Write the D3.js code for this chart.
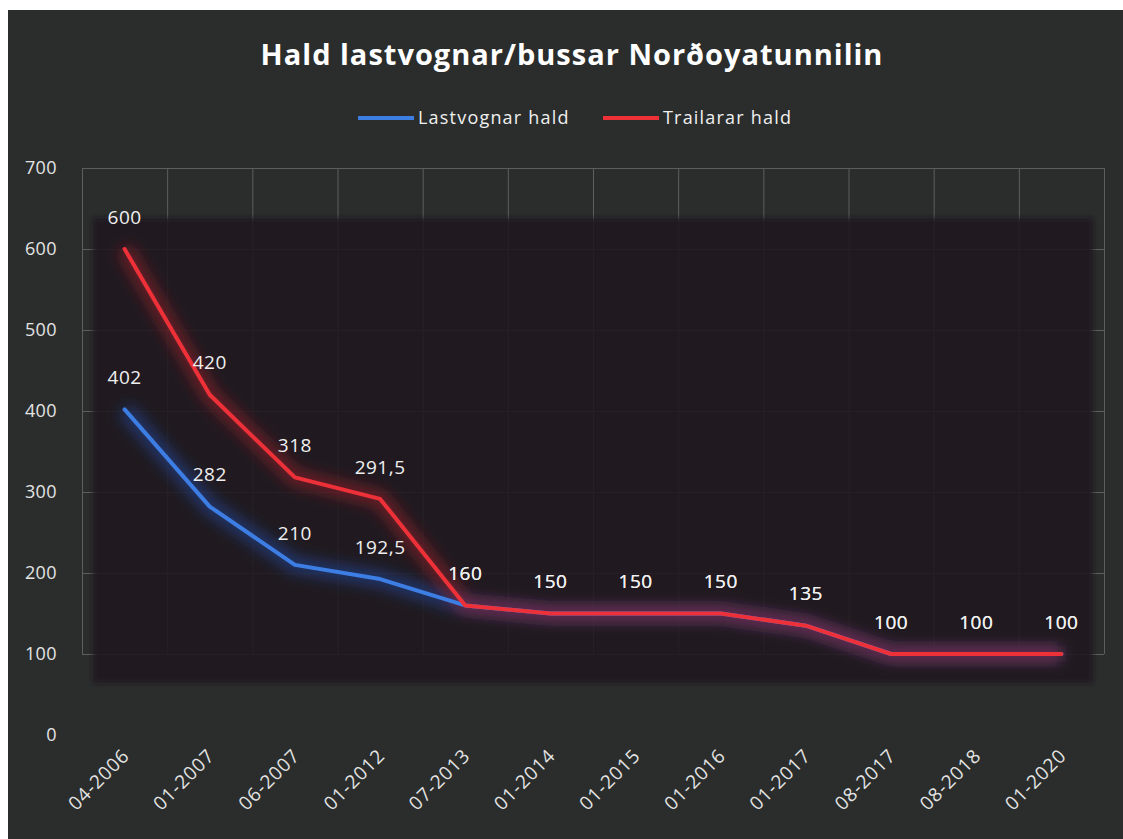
<!DOCTYPE html>
<html>
<head>
<meta charset="utf-8">
<script src="https://cdn.jsdelivr.net/npm/d3@7"></script>
<style>
  html, body { margin: 0; padding: 0; background: #fff; }
  svg { display: block; }
</style>
</head>
<body>
<svg id="chart"></svg>
<script>
// data
const categories = ['04-2006', '01-2007', '06-2007', '01-2012', '07-2013', '01-2014',
  '01-2015', '01-2016', '01-2017', '08-2017', '08-2018', '01-2020'];
const lastvognar = [402, 282, 210, 192.5, 160, 150, 150, 150, 135, 100, 100, 100];
const trailarar = [600, 420, 318, 291.5, 160, 150, 150, 150, 135, 100, 100, 100];
const yTicks = [0, 100, 200, 300, 400, 500, 600, 700];

const width = 1123;
const height = 839;
const font = '"Open Sans", sans-serif';

const svg = d3.select('#chart')
  .attr('width', width)
  .attr('height', height);

// blur filters for the glow
const defs = svg.append('defs');
function blur(id, dev) {
  defs.append('filter').attr('id', id)
    .attr('x', '-20%').attr('y', '-20%').attr('width', '140%').attr('height', '140%')
    .append('feGaussianBlur').attr('stdDeviation', dev);
}
blur('glow', 7);
blur('soft', 2);

// chart background
svg.append('rect')
  .attr('x', 8).attr('y', 10)
  .attr('width', width - 8).attr('height', height - 10)
  .attr('fill', '#2a2d2c');

const plot = { left: 82, right: 1104, top: 168, bottom: 735 };

const x = d3.scaleBand()
  .domain(categories)
  .range([plot.left, plot.right]);
const cx = (c) => x(c) + x.bandwidth() / 2;

const y = d3.scaleLinear()
  .domain([0, 700])
  .range([plot.bottom, plot.top]);

// gridlines
const grid = svg.append('g').attr('stroke', '#5c5f5e').attr('stroke-width', 1);
grid.selectAll('line.h')
  .data(yTicks.filter(d => d > 0))
  .enter().append('line')
  .attr('x1', plot.left).attr('x2', plot.right)
  .attr('y1', d => y(d) + 0.5).attr('y2', d => y(d) + 0.5);
grid.selectAll('line.v')
  .data(d3.range(categories.length + 1))
  .enter().append('line')
  .attr('x1', i => plot.left + i * x.bandwidth() + 0.5)
  .attr('x2', i => plot.left + i * x.bandwidth() + 0.5)
  .attr('y1', plot.top).attr('y2', y(100));

// darker inner area behind the lines (covers grid partly)
svg.append('rect')
  .attr('x', 93).attr('y', 218)
  .attr('width', 1000).attr('height', 465)
  .attr('fill', '#1f191e')
  .attr('fill-opacity', 0.88)
  .attr('filter', 'url(#soft)');

// y axis labels
svg.append('g').selectAll('text')
  .data(yTicks)
  .enter().append('text')
  .attr('x', 57)
  .attr('y', d => y(d))
  .attr('dy', '0.35em')
  .attr('text-anchor', 'end')
  .attr('font-family', font)
  .attr('font-size', 18)
  .attr('letter-spacing', 0.4)
  .attr('fill', '#e4e4e4')
  .text(d => d);

// x axis labels, rotated
svg.append('g').selectAll('text')
  .data(categories)
  .enter().append('text')
  .attr('transform', d => `translate(${cx(d) + 6},${757}) rotate(-45)`)
  .attr('text-anchor', 'end')
  .attr('font-family', font)
  .attr('font-size', 19)
  .attr('letter-spacing', 0.8)
  .attr('fill', '#e4e4e4')
  .text(d => d);

// lines
const line = d3.line()
  .x((d, i) => cx(categories[i]))
  .y(d => y(d));

const series = [
  { name: 'Lastvognar hald', values: lastvognar, color: '#3c7ee4', glow: '#2457c8' },
  { name: 'Trailarar hald', values: trailarar, color: '#ee3039', glow: '#c8222b' }
];

series.forEach(s => {
  svg.append('path')
    .datum(s.values)
    .attr('d', line)
    .attr('fill', 'none')
    .attr('stroke', s.glow)
    .attr('stroke-width', 16)
    .attr('stroke-opacity', 0.45)
    .attr('stroke-linejoin', 'round')
    .attr('filter', 'url(#glow)');
});
series.forEach(s => {
  svg.append('path')
    .datum(s.values)
    .attr('d', line)
    .attr('fill', 'none')
    .attr('stroke', s.color)
    .attr('stroke-width', 4)
    .attr('stroke-linejoin', 'round')
    .attr('stroke-linecap', 'round');
});

// data labels
const fmt = (v) => String(v).replace('.', ',');
series.forEach(s => {
  svg.append('g').selectAll('text')
    .data(s.values)
    .enter().append('text')
    .attr('x', (d, i) => cx(categories[i]))
    .attr('y', d => y(d) - 32)
    .attr('dy', '0.35em')
    .attr('text-anchor', 'middle')
    .attr('font-family', font)
    .attr('font-size', 19)
    .attr('letter-spacing', 0.5)
    .attr('fill', '#f0f0f0')
    .text(d => fmt(d));
});

// title
svg.append('text')
  .attr('x', 572).attr('y', 65)
  .attr('text-anchor', 'middle')
  .attr('font-family', font)
  .attr('font-weight', 'bold')
  .attr('font-size', 29)
  .attr('letter-spacing', 1)
  .attr('fill', '#ffffff')
  .text('Hald lastvognar/bussar Norðoyatunnilin');

// legend
const legend = [
  { name: 'Lastvognar hald', color: '#3c7ee4', x: 358 },
  { name: 'Trailarar hald', color: '#ee3039', x: 603 }
];
const lg = svg.append('g');
legend.forEach(l => {
  lg.append('line')
    .attr('x1', l.x).attr('x2', l.x + 56)
    .attr('y1', 118).attr('y2', 118)
    .attr('stroke', l.color).attr('stroke-width', 4);
  lg.append('text')
    .attr('x', l.x + 60).attr('y', 118)
    .attr('dy', '0.35em')
    .attr('font-family', font)
    .attr('font-size', 18)
    .attr('letter-spacing', 1.2)
    .attr('fill', '#f0f0f0')
    .text(l.name);
});
</script>
</body>
</html>
